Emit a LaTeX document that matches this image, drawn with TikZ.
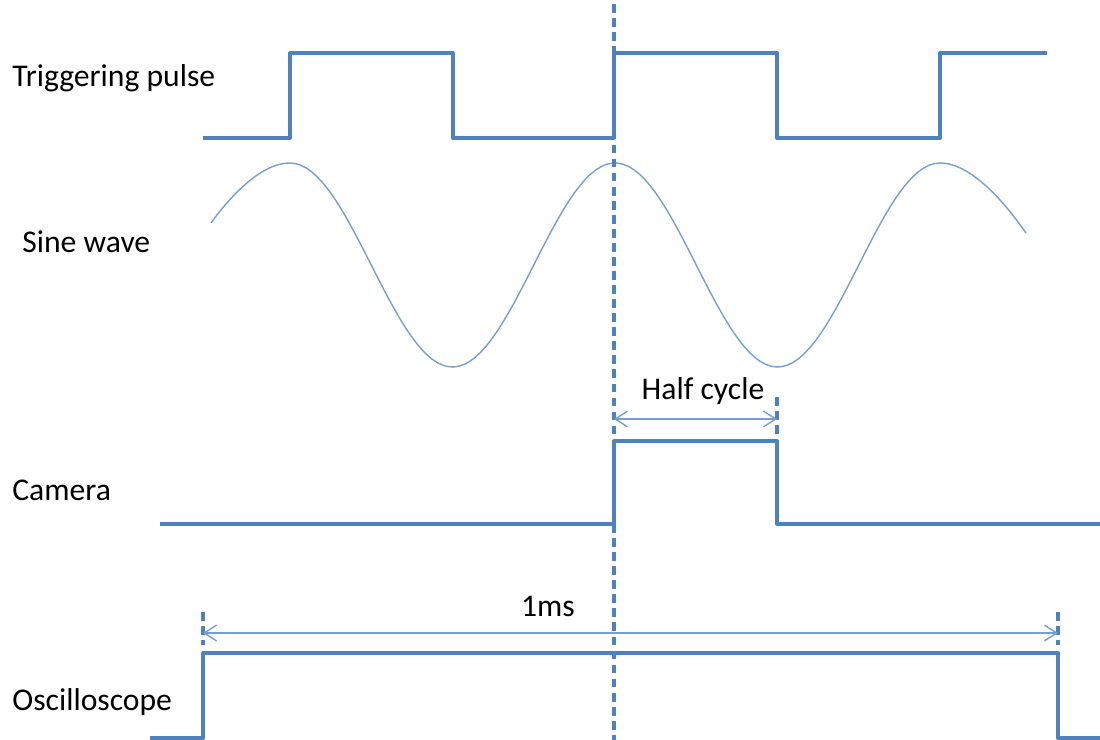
\documentclass[tikz,border=0pt]{standalone}
\usepackage{fontspec}
\setmainfont{Carlito}
\usetikzlibrary{arrows.meta}
\definecolor{sigblue}{RGB}{79,129,189}
\definecolor{thinblue}{RGB}{120,158,206}
\begin{document}
\begin{tikzpicture}[x=0.02cm, y=-0.02cm, font=\fontsize{18}{22}\selectfont,
  sig/.style={draw=sigblue, line width=2.3pt, line join=round},
  wave/.style={draw=thinblue, line width=0.8pt},
  mark line/.style={draw=sigblue, line width=2.3pt, dash pattern=on 5pt off 3pt},
  dim/.style={draw=thinblue, line width=0.8pt, {Straight Barb[length=7pt,width=9pt]}-{Straight Barb[length=7pt,width=9pt]}},
  lbl/.style={anchor=west, inner sep=0pt}]
\useasboundingbox (0,0) rectangle (1100,740);
% labels
\node[lbl] (trig) at (12,78) {Triggering pulse};
\node[lbl] (sine) at (22,242) {Sine wave};
\node[lbl] (cam) at (12,490) {Camera};
\node[lbl] (osc) at (12,702) {Oscilloscope};
% signals
\draw[sig] (203,138) -- (290,138) -- (290,53) -- (453,53) -- (453,138) -- (614,138) -- (614,53)
  -- (777,53) -- (777,138) -- (940,138) -- (940,53) -- (1047,53);
\draw[wave] (211,223) .. controls (232,194) and (262,163) .. (290,163)
  plot[domain=290:940, samples=120] (\x, {265-102*cos(1.10769*(\x-290))})
  .. controls (970,163) and (1003,200) .. (1026,233);
\draw[sig] (160,524) -- (614,524) -- (614,441) -- (777,441) -- (777,524) -- (1100,524);
\draw[sig] (150,738) -- (203,738) -- (203,653) -- (1058,653) -- (1058,738) -- (1100,738);
% markers
\draw[mark line] (614,4) -- (614,740);
\draw[mark line] (777,397) -- (777,438);
\draw[mark line] (203,612) -- (203,645);
\draw[mark line] (1058,612) -- (1058,645);
\coordinate (hc1) at (614,419);
\coordinate (hc2) at (777,419);
\coordinate (ms1) at (203,633);
\coordinate (ms2) at (1058,633);
\draw[dim] (hc1) -- (hc2);
\draw[dim] (ms1) -- (ms2);
\node (half) at (703,391) {Half cycle};
\node (onems) at (548,606) {1ms};
\end{tikzpicture}
\end{document}
